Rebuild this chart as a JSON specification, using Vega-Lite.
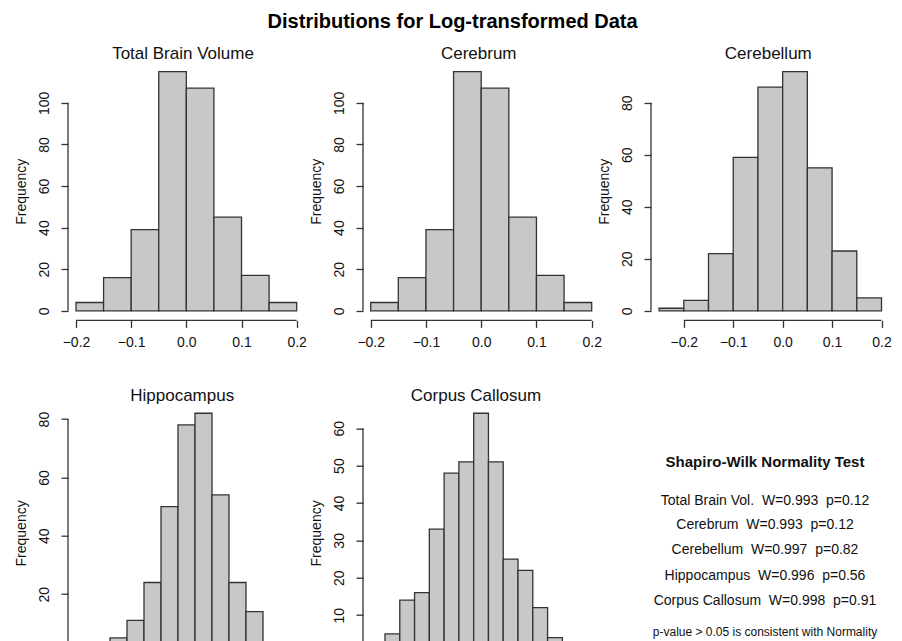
{
  "$schema": "https://vega.github.io/schema/vega-lite/v6.json",
  "padding": {"left": 13, "top": 12, "right": 0, "bottom": 0},
  "background": "white",
  "title": {"text": "Distributions for Log-transformed Data", "fontSize": 20, "fontWeight": "bold", "font": "Liberation Sans", "baseline": "alphabetic", "offset": -3, "anchor": "middle", "frame": "bounds", "color": "#000"},
  "columns": 3,
  "spacing": {"row": 82.7, "column": 48},
  "bounds": "flush",
  "align": "each",
  "config": {
    "view": {"stroke": null},
    "font": "Liberation Sans",
    "axis": {"grid": false, "domain": false, "tickSize": 7, "tickColor": "#333", "tickWidth": 1.3, "labelFontSize": 14, "labelColor": "#111", "labelFont": "Liberation Sans", "titleFont": "Liberation Sans", "titleFontSize": 14, "titleFontWeight": "normal", "titleColor": "#111", "labelOverlap": false, "labelBound": false, "labelFlush": false},
    "axisX": {"labelPadding": 8},
    "axisY": {"labelAngle": -90, "labelAlign": "center", "labelBaseline": "bottom", "labelPadding": 10, "titlePadding": 9},
    "title": {"fontSize": 17, "fontWeight": "normal", "font": "Liberation Sans", "baseline": "alphabetic", "offset": -1.3, "frame": "group", "anchor": "middle", "color": "#111"}
  },
  "concat": [
    {
      "width": 247, "height": 258.4,
      "title": {"text": "Total Brain Volume", "dx": -8.5},
      "layer": [
        {
          "data": {"values": [
            {"x0": -0.2, "x1": -0.15, "count": 4},
            {"x0": -0.15, "x1": -0.1, "count": 16},
            {"x0": -0.1, "x1": -0.05, "count": 39},
            {"x0": -0.05, "x1": 0, "count": 115},
            {"x0": 0, "x1": 0.05, "count": 107},
            {"x0": 0.05, "x1": 0.1, "count": 45},
            {"x0": 0.1, "x1": 0.15, "count": 17},
            {"x0": 0.15, "x1": 0.2, "count": 4}
          ]},
          "mark": {"type": "rect", "fill": "#c8c8c8", "stroke": "#333", "strokeWidth": 1.3},
          "encoding": {
            "x": {"field": "x0", "type": "quantitative", "scale": {"domain": [-0.2145, 0.2332], "nice": false, "zero": false}, "axis": {"values": [-0.2, -0.1, 0, 0.1, 0.2], "format": ".1f", "title": null}},
            "x2": {"field": "x1"},
            "y": {"field": "count", "type": "quantitative", "scale": {"domain": [-4.6, 119.6], "nice": false, "zero": false}, "axis": {"values": [0, 20, 40, 60, 80, 100], "title": "Frequency"}},
            "y2": {"datum": 0}
          }
        },
        {
          "data": {"values": [
            {"xa": -0.2145, "xb": -0.2145, "ya": 0, "yb": 100},
            {"xa": -0.2, "xb": 0.2, "ya": -4.6, "yb": -4.6}
          ]},
          "mark": {"type": "rule", "color": "#333", "strokeWidth": 1.3},
          "encoding": {
            "x": {"field": "xa", "type": "quantitative", "axis": {"values": [-0.2, -0.1, 0, 0.1, 0.2], "format": ".1f", "title": null}},
            "x2": {"field": "xb"},
            "y": {"field": "ya", "type": "quantitative", "axis": {"values": [0, 20, 40, 60, 80, 100], "title": "Frequency"}},
            "y2": {"field": "yb"}
          }
        }
      ]
    },
    {
      "width": 239.5, "height": 258.4,
      "title": {"text": "Cerebrum", "dx": -4},
      "layer": [
        {
          "data": {"values": [
            {"x0": -0.2, "x1": -0.15, "count": 4},
            {"x0": -0.15, "x1": -0.1, "count": 16},
            {"x0": -0.1, "x1": -0.05, "count": 39},
            {"x0": -0.05, "x1": 0, "count": 115},
            {"x0": 0, "x1": 0.05, "count": 107},
            {"x0": 0.05, "x1": 0.1, "count": 45},
            {"x0": 0.1, "x1": 0.15, "count": 17},
            {"x0": 0.15, "x1": 0.2, "count": 4}
          ]},
          "mark": {"type": "rect", "fill": "#c8c8c8", "stroke": "#333", "strokeWidth": 1.3},
          "encoding": {
            "x": {"field": "x0", "type": "quantitative", "scale": {"domain": [-0.21394, 0.21954], "nice": false, "zero": false}, "axis": {"values": [-0.2, -0.1, 0, 0.1, 0.2], "format": ".1f", "title": null}},
            "x2": {"field": "x1"},
            "y": {"field": "count", "type": "quantitative", "scale": {"domain": [-4.6, 119.6], "nice": false, "zero": false}, "axis": {"values": [0, 20, 40, 60, 80, 100], "title": "Frequency"}},
            "y2": {"datum": 0}
          }
        },
        {
          "data": {"values": [
            {"xa": -0.21394, "xb": -0.21394, "ya": 0, "yb": 100},
            {"xa": -0.2, "xb": 0.2, "ya": -4.6, "yb": -4.6}
          ]},
          "mark": {"type": "rule", "color": "#333", "strokeWidth": 1.3},
          "encoding": {
            "x": {"field": "xa", "type": "quantitative", "axis": {"values": [-0.2, -0.1, 0, 0.1, 0.2], "format": ".1f", "title": null}},
            "x2": {"field": "xb"},
            "y": {"field": "ya", "type": "quantitative", "axis": {"values": [0, 20, 40, 60, 80, 100], "title": "Frequency"}},
            "y2": {"field": "yb"}
          }
        }
      ]
    },
    {
      "width": 240, "height": 258.4,
      "title": {"text": "Cerebellum", "dx": -2.7},
      "layer": [
        {
          "data": {"values": [
            {"x0": -0.25, "x1": -0.2, "count": 1},
            {"x0": -0.2, "x1": -0.15, "count": 4},
            {"x0": -0.15, "x1": -0.1, "count": 22},
            {"x0": -0.1, "x1": -0.05, "count": 59},
            {"x0": -0.05, "x1": 0, "count": 86},
            {"x0": 0, "x1": 0.05, "count": 92},
            {"x0": 0.05, "x1": 0.1, "count": 55},
            {"x0": 0.1, "x1": 0.15, "count": 23},
            {"x0": 0.15, "x1": 0.2, "count": 5}
          ]},
          "mark": {"type": "rect", "fill": "#c8c8c8", "stroke": "#333", "strokeWidth": 1.3},
          "encoding": {
            "x": {"field": "x0", "type": "quantitative", "scale": {"domain": [-0.26636, 0.21922], "nice": false, "zero": false}, "axis": {"values": [-0.2, -0.1, 0, 0.1, 0.2], "format": ".1f", "title": null}},
            "x2": {"field": "x1"},
            "y": {"field": "count", "type": "quantitative", "scale": {"domain": [-3.68, 95.68], "nice": false, "zero": false}, "axis": {"values": [0, 20, 40, 60, 80], "title": "Frequency"}},
            "y2": {"datum": 0}
          }
        },
        {
          "data": {"values": [
            {"xa": -0.26636, "xb": -0.26636, "ya": 0, "yb": 80},
            {"xa": -0.2, "xb": 0.2, "ya": -3.68, "yb": -3.68}
          ]},
          "mark": {"type": "rule", "color": "#333", "strokeWidth": 1.3},
          "encoding": {
            "x": {"field": "xa", "type": "quantitative", "axis": {"values": [-0.2, -0.1, 0, 0.1, 0.2], "format": ".1f", "title": null}},
            "x2": {"field": "xb"},
            "y": {"field": "ya", "type": "quantitative", "axis": {"values": [0, 20, 40, 60, 80], "title": "Frequency"}},
            "y2": {"field": "yb"}
          }
        }
      ]
    },
    {
      "width": 247, "height": 258.4,
      "title": {"text": "Hippocampus", "dx": -9.3},
      "layer": [
        {
          "data": {"values": [
            {"x0": -0.14, "x1": -0.12, "count": 1},
            {"x0": -0.12, "x1": -0.1, "count": 1},
            {"x0": -0.1, "x1": -0.08, "count": 5},
            {"x0": -0.08, "x1": -0.06, "count": 11},
            {"x0": -0.06, "x1": -0.04, "count": 24},
            {"x0": -0.04, "x1": -0.02, "count": 50},
            {"x0": -0.02, "x1": 0, "count": 78},
            {"x0": 0, "x1": 0.02, "count": 82},
            {"x0": 0.02, "x1": 0.04, "count": 54},
            {"x0": 0.04, "x1": 0.06, "count": 24},
            {"x0": 0.06, "x1": 0.08, "count": 14},
            {"x0": 0.08, "x1": 0.1, "count": 2},
            {"x0": 0.1, "x1": 0.12, "count": 1}
          ]},
          "mark": {"type": "rect", "fill": "#c8c8c8", "stroke": "#333", "strokeWidth": 1.3},
          "encoding": {
            "x": {"field": "x0", "type": "quantitative", "scale": {"domain": [-0.14941, 0.14118], "nice": false, "zero": false}, "axis": {"values": [-0.1, -0.05, 0, 0.05, 0.1], "format": ".2f", "title": null}},
            "x2": {"field": "x1"},
            "y": {"field": "count", "type": "quantitative", "scale": {"domain": [-3.28, 85.28], "nice": false, "zero": false}, "axis": {"values": [0, 20, 40, 60, 80], "title": "Frequency"}},
            "y2": {"datum": 0}
          }
        },
        {
          "data": {"values": [
            {"xa": -0.14941, "xb": -0.14941, "ya": 0, "yb": 80},
            {"xa": -0.1, "xb": 0.1, "ya": -3.28, "yb": -3.28}
          ]},
          "mark": {"type": "rule", "color": "#333", "strokeWidth": 1.3},
          "encoding": {
            "x": {"field": "xa", "type": "quantitative", "axis": {"values": [-0.1, -0.05, 0, 0.05, 0.1], "format": ".2f", "title": null}},
            "x2": {"field": "xb"},
            "y": {"field": "ya", "type": "quantitative", "axis": {"values": [0, 20, 40, 60, 80], "title": "Frequency"}},
            "y2": {"field": "yb"}
          }
        }
      ]
    },
    {
      "width": 239.5, "height": 258.4,
      "title": {"text": "Corpus Callosum", "dx": -6.75},
      "layer": [
        {
          "data": {"values": [
            {"x0": -0.16, "x1": -0.14, "count": 1},
            {"x0": -0.14, "x1": -0.12, "count": 5},
            {"x0": -0.12, "x1": -0.1, "count": 14},
            {"x0": -0.1, "x1": -0.08, "count": 16},
            {"x0": -0.08, "x1": -0.06, "count": 33},
            {"x0": -0.06, "x1": -0.04, "count": 48},
            {"x0": -0.04, "x1": -0.02, "count": 51},
            {"x0": -0.02, "x1": 0, "count": 64},
            {"x0": 0, "x1": 0.02, "count": 51},
            {"x0": 0.02, "x1": 0.04, "count": 25},
            {"x0": 0.04, "x1": 0.06, "count": 22},
            {"x0": 0.06, "x1": 0.08, "count": 12},
            {"x0": 0.08, "x1": 0.1, "count": 4},
            {"x0": 0.1, "x1": 0.12, "count": 1},
            {"x0": 0.12, "x1": 0.14, "count": 1}
          ]},
          "mark": {"type": "rect", "fill": "#c8c8c8", "stroke": "#333", "strokeWidth": 1.3},
          "encoding": {
            "x": {"field": "x0", "type": "quantitative", "scale": {"domain": [-0.16977, 0.15432], "nice": false, "zero": false}, "axis": {"values": [-0.15, -0.1, -0.05, 0, 0.05, 0.1, 0.15], "format": ".2f", "title": null}},
            "x2": {"field": "x1"},
            "y": {"field": "count", "type": "quantitative", "scale": {"domain": [-2.56, 66.56], "nice": false, "zero": false}, "axis": {"values": [0, 10, 20, 30, 40, 50, 60], "title": "Frequency"}},
            "y2": {"datum": 0}
          }
        },
        {
          "data": {"values": [
            {"xa": -0.16977, "xb": -0.16977, "ya": 0, "yb": 60},
            {"xa": -0.15, "xb": 0.15, "ya": -2.56, "yb": -2.56}
          ]},
          "mark": {"type": "rule", "color": "#333", "strokeWidth": 1.3},
          "encoding": {
            "x": {"field": "xa", "type": "quantitative", "axis": {"values": [-0.15, -0.1, -0.05, 0, 0.05, 0.1, 0.15], "format": ".2f", "title": null}},
            "x2": {"field": "xb"},
            "y": {"field": "ya", "type": "quantitative", "axis": {"values": [0, 10, 20, 30, 40, 50, 60], "title": "Frequency"}},
            "y2": {"field": "yb"}
          }
        }
      ]
    },
    {
      "width": 240, "height": 258.4,
      "layer": [
        {
          "data": {"values": [{"x": 0.475, "y": 0.773, "label": "Shapiro-Wilk Normality Test"}]},
          "mark": {"type": "text", "fontSize": 15, "fontWeight": "bold", "baseline": "middle", "align": "center", "color": "#111", "font": "Liberation Sans"},
          "encoding": {
            "x": {"field": "x", "type": "quantitative", "scale": {"domain": [0, 1], "nice": false, "zero": false}, "axis": null},
            "y": {"field": "y", "type": "quantitative", "scale": {"domain": [0, 1], "nice": false, "zero": false}, "axis": null},
            "text": {"field": "label"}
          }
        },
        {
          "data": {"values": [
            {"x": 0.475, "y": 0.625, "label": "Total Brain Vol.\u00a0 W=0.993\u00a0 p=0.12"},
            {"x": 0.475, "y": 0.531, "label": "Cerebrum\u00a0 W=0.993\u00a0 p=0.12"},
            {"x": 0.475, "y": 0.434, "label": "Cerebellum\u00a0 W=0.997\u00a0 p=0.82"},
            {"x": 0.475, "y": 0.334, "label": "Hippocampus\u00a0 W=0.996\u00a0 p=0.56"},
            {"x": 0.475, "y": 0.238, "label": "Corpus Callosum\u00a0 W=0.998\u00a0 p=0.91"}
          ]},
          "mark": {"type": "text", "fontSize": 14, "baseline": "middle", "align": "center", "color": "#111", "font": "Liberation Sans"},
          "encoding": {
            "x": {"field": "x", "type": "quantitative", "axis": null},
            "y": {"field": "y", "type": "quantitative", "axis": null},
            "text": {"field": "label"}
          }
        },
        {
          "data": {"values": [{"x": 0.475, "y": 0.115, "label": "p-value > 0.05 is consistent with Normality"}]},
          "mark": {"type": "text", "fontSize": 12, "baseline": "middle", "align": "center", "color": "#111", "font": "Liberation Sans"},
          "encoding": {
            "x": {"field": "x", "type": "quantitative", "axis": null},
            "y": {"field": "y", "type": "quantitative", "axis": null},
            "text": {"field": "label"}
          }
        }
      ]
    }
  ]
}
